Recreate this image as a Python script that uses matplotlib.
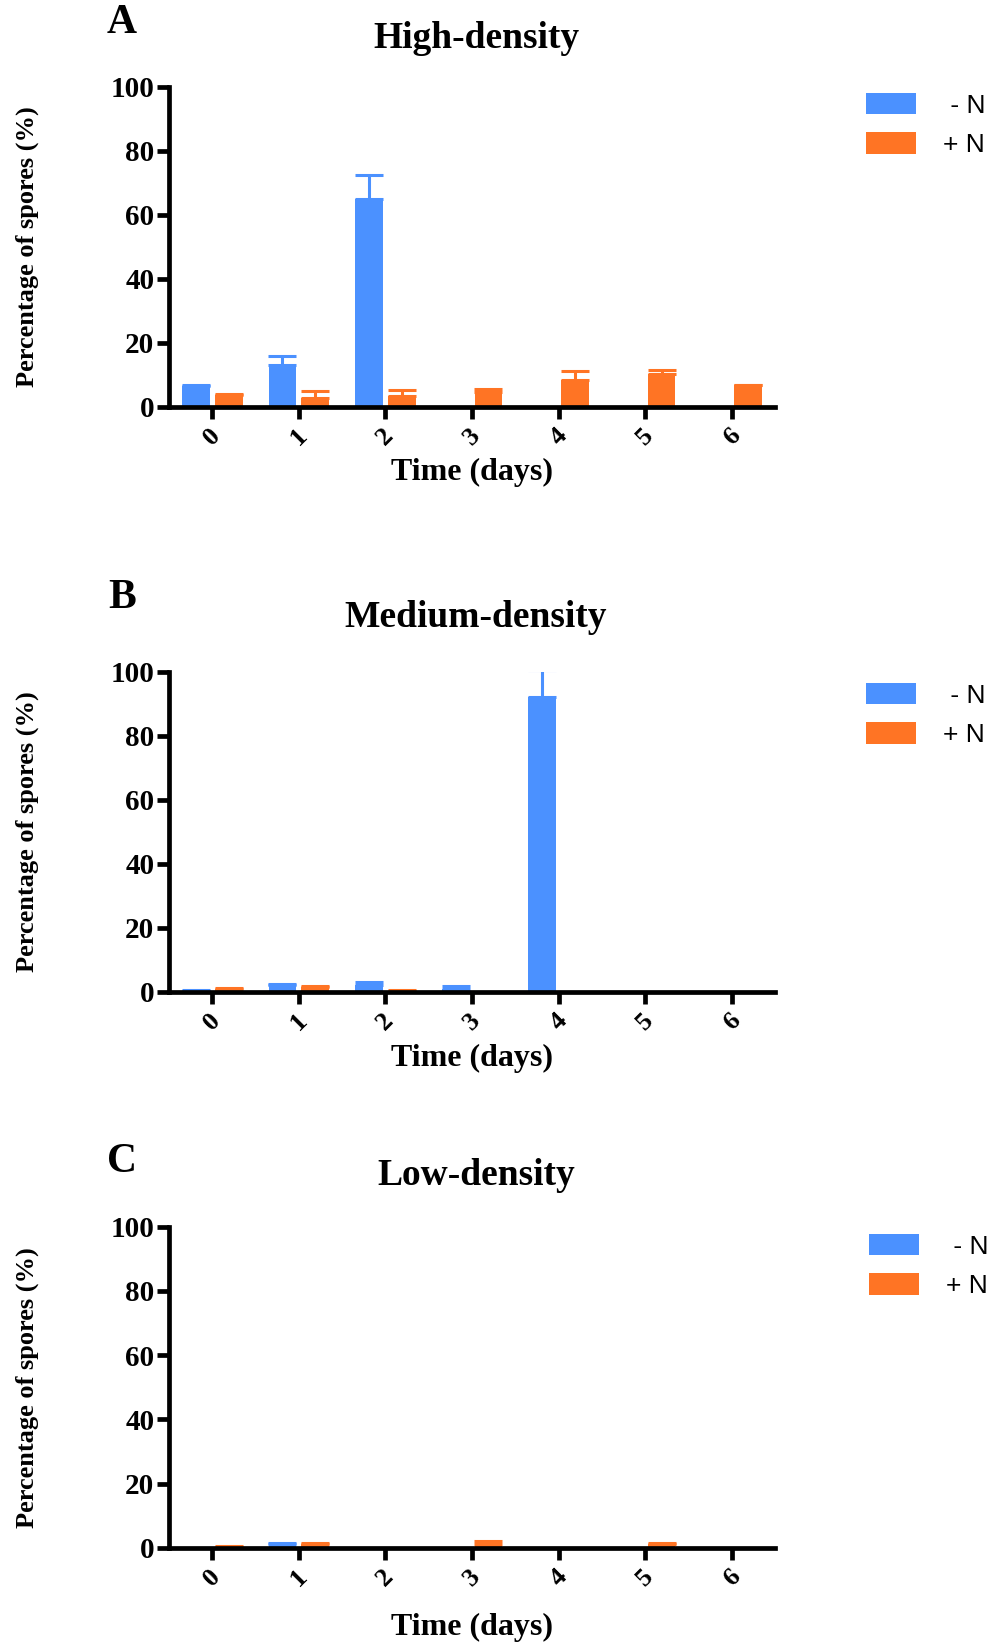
import numpy as np
import matplotlib
matplotlib.use("Agg")
import matplotlib.pyplot as plt
from matplotlib.patches import Patch

days = [0, 1, 2, 3, 4, 5, 6]
nan = np.nan

# percentage of spores, mean and upper SD, per density
high_minus = [6.5, 13.0, 65.0, nan, nan, nan, nan]
high_minus_err = [0.3, 2.8, 7.4, nan, nan, nan, nan]
high_plus = [3.8, 2.7, 3.3, 4.7, 8.2, 10.3, 6.7]
high_plus_err = [0.2, 2.2, 1.9, 0.8, 3.0, 1.1, 0.2]

med_minus = [0.3, 2.1, 2.1, 0.8, 92.2, nan, nan]
med_minus_err = [0.1, 0.2, 1.0, 1.0, 8.4, nan, nan]
med_plus = [1.0, 1.4, 0.3, nan, nan, nan, nan]
med_plus_err = [0.3, 0.5, 0.1, nan, nan, nan, nan]

low_minus = [nan, 1.0, nan, nan, nan, nan, nan]
low_minus_err = [nan, 0.6, nan, nan, nan, nan, nan]
low_plus = [0.3, 1.0, nan, 1.3, nan, 1.0, nan]
low_plus_err = [0.1, 0.6, nan, 0.7, nan, 0.4, nan]

panels = [
    ("A", "High-density", high_minus, high_minus_err, high_plus, high_plus_err),
    ("B", "Medium-density", med_minus, med_minus_err, med_plus, med_plus_err),
    ("C", "Low-density", low_minus, low_minus_err, low_plus, low_plus_err),
]

BLUE = "#4b91ff"
ORANGE = "#ff7424"
SERIF = "Liberation Serif"
W, H = 997, 1642

fig = plt.figure(figsize=(W / 100, H / 100), dpi=100)


def fx(px):
    return px / W


def fy(py):
    return 1 - py / H


# pixel layout: (axes top, axes bottom, letter y, title y, xlabel y, legend top, legend x)
layout = [
    (86.7, 406.7, 23, 38, 472, 93, 866),
    (671.7, 991.7, 598, 617, 1058, 683, 866),
    (1226.7, 1547.7, 1162, 1175, 1627, 1234, 869),
]

x = np.arange(len(days))
bw = 0.32
off = 0.19

for (letter, title, mn, mn_err, pl, pl_err), (top, bot, ly, ty, xly, lgy, lgx) in zip(panels, layout):
    ax = fig.add_axes([fx(169), fy(bot), fx(775) - fx(169), (bot - top) / H])

    for vals, errs, shift, col in [(mn, mn_err, -off, BLUE), (pl, pl_err, off, ORANGE)]:
        vals = np.array(vals, dtype=float)
        errs = np.array(errs, dtype=float)
        ax.errorbar(x + shift, vals, yerr=[np.zeros_like(errs), errs], fmt="none",
                    ecolor=col, elinewidth=2.2, capsize=10, capthick=2.2, zorder=1)
        ax.bar(x + shift, vals, width=bw, color=col, zorder=2)

    ax.set_xlim(-0.5, 6.5)
    ax.set_ylim(0, 100)
    ax.set_yticks([0, 20, 40, 60, 80, 100])
    ax.set_xticks(x)
    ax.set_xticklabels([str(d) for d in days], rotation=45, ha="center", va="top")

    for s in ["top", "right"]:
        ax.spines[s].set_visible(False)
    for s in ["left", "bottom"]:
        ax.spines[s].set_linewidth(3.4)
        ax.spines[s].set_zorder(3)

    ax.tick_params(axis="both", width=3.4, length=8.5, color="black")
    ax.tick_params(axis="y", pad=2)
    ax.tick_params(axis="x", pad=4)
    for lab in ax.get_yticklabels():
        lab.set_fontfamily(SERIF)
        lab.set_fontweight("bold")
        lab.set_fontsize(21)
    for lab in ax.get_xticklabels():
        lab.set_fontfamily(SERIF)
        lab.set_fontweight("bold")
        lab.set_fontsize(19)

    ax.set_ylabel("Percentage of spores (%)", fontfamily=SERIF, fontweight="bold", fontsize=19)
    ax.yaxis.set_label_coords(-0.215, 0.5)

    fig.text(fx(472), fy(xly), "Time (days)", fontfamily=SERIF, fontweight="bold",
             fontsize=23, ha="center", va="center")
    fig.text(fx(476), fy(ty), title, fontfamily=SERIF, fontweight="bold",
             fontsize=27, ha="center", va="center")
    fig.text(fx(122), fy(ly), letter, fontfamily=SERIF, fontweight="bold",
             fontsize=30, ha="center", va="center")

    handles = [Patch(facecolor=BLUE, edgecolor="none"), Patch(facecolor=ORANGE, edgecolor="none")]
    fig.legend(handles, [" - N", "+ N"], loc="upper left",
               bbox_to_anchor=(fx(lgx), fy(lgy)), frameon=False,
               prop={"family": "Liberation Sans", "size": 19},
               handlelength=1.9, handleheight=0.87, handletextpad=1.0,
               labelspacing=0.55, borderpad=0, borderaxespad=0)

fig.savefig("out.png", dpi=100, facecolor="white")
